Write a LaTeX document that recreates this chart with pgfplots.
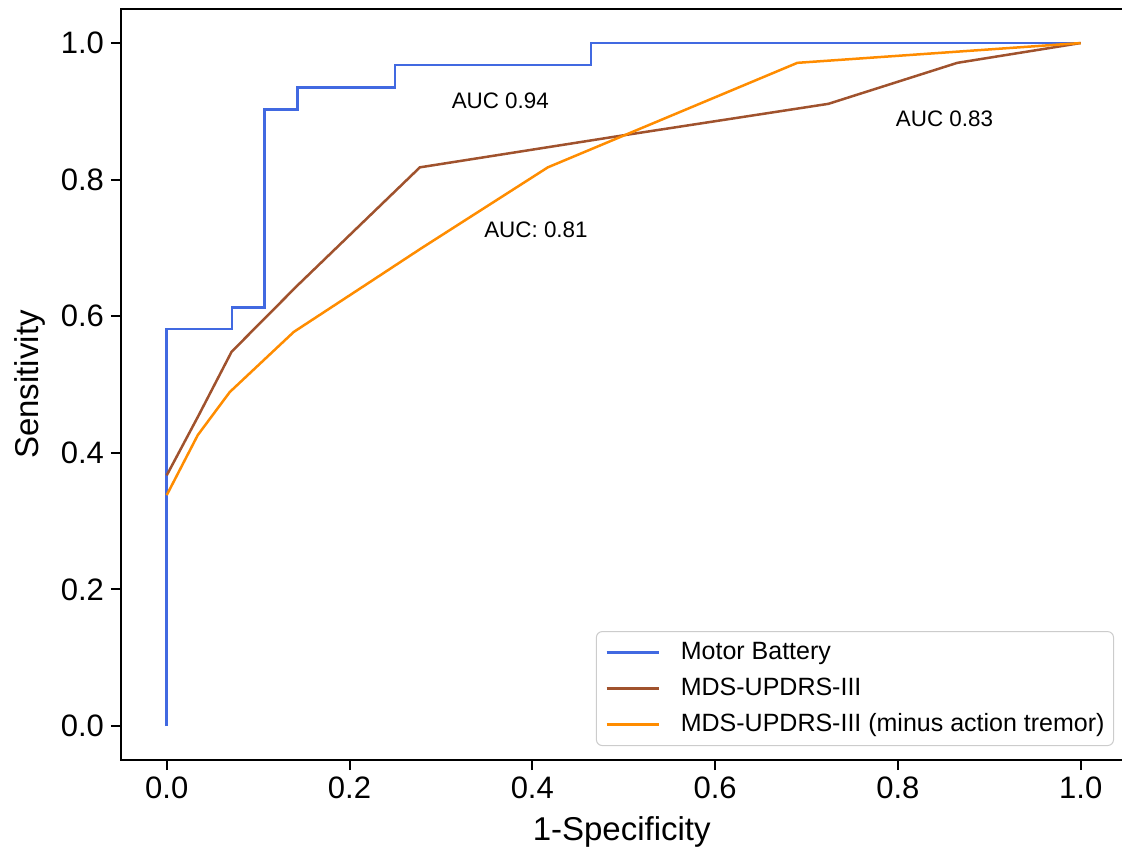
\documentclass[border=0pt]{standalone}
\usepackage{fontspec}
\setmainfont{Liberation Sans}
\usepackage{pgfplots}
\pgfplotsset{compat=1.18}

\definecolor{mbblue}{RGB}{65,105,225}
\definecolor{updrs}{RGB}{160,82,45}
\definecolor{updrsmt}{RGB}{255,140,0}

\begin{document}
\begin{tikzpicture}
% page = reference frame (1px = 0.5pt), right spine falls just outside as in the original
\useasboundingbox (-60.5pt,-46.9pt) rectangle (500.5pt,380.1pt);
\begin{axis}[
  at={(0,0)}, anchor=south west,
  scale only axis,
  width=502.7pt, height=375.65pt,
  xmin=-0.05, xmax=1.05,
  ymin=-0.05, ymax=1.05,
  xtick={0,0.2,...,1.0},
  ytick={0,0.2,...,1.0},
  xtick pos=bottom, ytick pos=left,
  tick align=outside,
  major tick length=5pt,
  every tick/.style={black, line width=1pt},
  axis line style={line width=1pt},
  /pgf/number format/assume math mode=true,
  /pgf/number format/.cd, fixed, fixed zerofill, precision=1, /pgfplots/.cd,
  tick label style={font=\fontsize{15.5}{18}\selectfont},
  xlabel={1-Specificity},
  ylabel={Sensitivity},
  label style={font=\fontsize{16.5}{19}\selectfont},
  x label style={at={(axis description cs:0.498,-0.0956)}, anchor=center},
  y label style={at={(axis description cs:-0.0905,0.5)}, anchor=center},
  legend cell align=left,
  legend image code/.code={\draw[#1] (0pt,0pt) -- (26pt,0pt);},
  legend style={
    at={(axis description cs:0.9877,0.0188)}, anchor=south east,
    draw=black!20, line width=0.5pt, rounded corners=3pt,
    font=\fontsize{12.5}{15}\selectfont,
    inner xsep=4.5pt, inner ysep=4.25pt,
    row sep=5.5pt, column sep=10.5pt,
    nodes={inner sep=0pt, text height=9.5pt, text depth=3pt},
  },
]

\addplot[mbblue, line width=1.25pt] coordinates {
  (0,0) (0,0.581) (0.0714,0.581) (0.0714,0.613) (0.107,0.613)
  (0.107,0.903) (0.143,0.903) (0.143,0.935) (0.25,0.935)
  (0.25,0.968) (0.464,0.968) (0.464,1.0) (1.0,1.0)
};
\addlegendentry{Motor Battery}

\addplot[updrs, line width=1.25pt] coordinates {
  (0,0.367) (0.035,0.455) (0.071,0.548) (0.143,0.645) (0.277,0.818)
  (0.505,0.866) (0.724,0.911) (0.865,0.971) (1.0,1.0)
};
\addlegendentry{MDS-UPDRS-III}

\addplot[updrsmt, line width=1.25pt] coordinates {
  (0,0.338) (0.034,0.426) (0.069,0.489) (0.139,0.577) (0.22,0.648)
  (0.278,0.699) (0.417,0.818) (0.69,0.971) (1.0,1.0)
};
\addlegendentry{MDS-UPDRS-III (minus action tremor)}

\node[font=\fontsize{11.2}{13}\selectfont] at (axis cs:0.365,0.915) {AUC 0.94};
\node[font=\fontsize{11.2}{13}\selectfont] at (axis cs:0.404,0.726) {AUC: 0.81};
\node[font=\fontsize{11.2}{13}\selectfont] at (axis cs:0.851,0.889) {AUC 0.83};
\end{axis}
\end{tikzpicture}
\end{document}
